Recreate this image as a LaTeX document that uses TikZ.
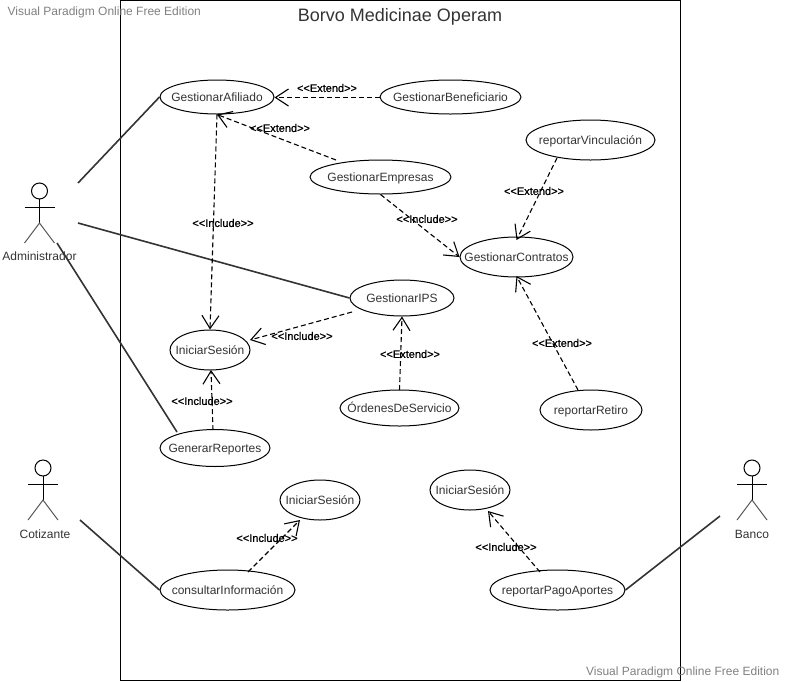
\documentclass[tikz,border=0pt]{standalone}
\usepackage{fontspec}
\setmainfont{Liberation Sans}
\newfontfamily\lblfont[FakeBold=0.9]{Liberation Sans}
\usetikzlibrary{shapes.geometric,arrows.meta}
\definecolor{inkc}{HTML}{333333}
\newcommand{\uctext}[1]{\smash{\raisebox{-4.4pt}{\makebox[0pt][c]{#1}}}}
\tikzset{
  uc/.style={ellipse,draw=black,line width=1pt,inner sep=0pt,text=inkc,font=\fontsize{12pt}{14pt}\selectfont},
  assoc/.style={draw=inkc,line width=1.6pt},
  dep/.style={draw=black,line width=1.1pt,dash pattern=on 5pt off 3pt,-{Straight Barb[length=13pt,width=17pt,line width=1.1pt]}},
  stereo/.style={font=\fontsize{11pt}{13pt}\lblfont,text=black,inner sep=0pt},
  actname/.style={font=\fontsize{12pt}{14pt}\selectfont,text=inkc,inner sep=0pt},
  wm/.style={font=\fontsize{12pt}{14pt}\selectfont,text=gray,inner sep=0pt},
  actor/.pic={
    \draw[black,line width=1pt] (0,-16) circle (8);
    \draw[black,line width=1pt] (0,-8) -- (0,16);
    \draw[black,line width=1pt] (-15,0) -- (15,0);
    \draw[black!65,line width=1pt] (-15,36) -- (0,16) -- (15,36);
  }
}
\begin{document}
\begin{tikzpicture}[x=1pt,y=-1pt]
\useasboundingbox (0,0) rectangle (785,681);
\draw[black,line width=1pt] (120.5,0.5) rectangle (680.5,680);
\node[font=\fontsize{18pt}{20pt}\selectfont,text=inkc,inner sep=0pt] (title) at (400,17) {Borvo Medicinae Operam};
\node[wm,anchor=west] (wm1) at (7.5,12) {Visual Paradigm Online Free Edition};
\node[wm,anchor=east] (wm2) at (779.5,672) {Visual Paradigm Online Free Edition};

\pic at (39.5,207) {actor};
\pic at (43,484) {actor};
\pic at (752,484) {actor};
\node[actname] (admin) at (39.5,256) {Administrador};
\node[actname] (coti) at (45,534) {Cotizante};
\node[actname] (banco) at (752,534) {Banco};
\coordinate (aa) at (78,183);
\coordinate (ab) at (78,223);
\coordinate (ac) at (57,243);
\coordinate (ad) at (80,520);
\coordinate (ae) at (720,516);

\node[uc,minimum width=114pt,minimum height=34pt] (afil) at (217,97) {\uctext{GestionarAfiliado}};
\node[uc,minimum width=141pt,minimum height=34pt] (bene) at (450.5,97) {\uctext{GestionarBeneficiario}};
\node[uc,minimum width=141pt,minimum height=34pt] (emp) at (380.5,177) {\uctext{GestionarEmpresas}};
\node[uc,minimum width=129pt,minimum height=40pt] (vinc) at (590.5,140) {\uctext{reportarVinculación}};
\node[uc,minimum width=113pt,minimum height=40pt] (contr) at (516.5,257) {\uctext{GestionarContratos}};
\node[uc,minimum width=104pt,minimum height=36pt] (ips) at (402,298) {\uctext{GestionarIPS}};
\node[uc,minimum width=80pt,minimum height=40pt] (ini1) at (210,350) {\uctext{IniciarSesión}};
\node[uc,minimum width=110pt,minimum height=37pt] (gen) at (215,448) {\uctext{GenerarReportes}};
\node[uc,minimum width=119pt,minimum height=36pt] (ord) at (399.5,408) {\uctext{ÓrdenesDeServicio}};
\node[uc,minimum width=102pt,minimum height=40pt] (ret) at (591,410) {\uctext{reportarRetiro}};
\node[uc,minimum width=80pt,minimum height=40pt] (ini2) at (320,500) {\uctext{IniciarSesión}};
\node[uc,minimum width=80pt,minimum height=40pt] (ini3) at (470,490) {\uctext{IniciarSesión}};
\node[uc,minimum width=135pt,minimum height=40pt] (cons) at (227.5,590) {\uctext{consultarInformación}};
\node[uc,minimum width=135pt,minimum height=40pt] (pago) at (557.5,590) {\uctext{reportarPagoAportes}};

\draw[assoc] (aa) -- (afil.west);
\draw[assoc] (ab) -- (ips.west);
\draw[assoc] (ac) -- ([shift={(-38,-16)}]gen.center);
\draw[assoc] (ad) -- (cons.west);
\draw[assoc] (ae) -- (pago.east);

\draw[dep] ([shift={(0,0.5)}]bene.west) -- ([shift={(0,0.5)}]afil.east);
\draw[dep] ([shift={(-44.5,-17)}]emp.center) -- (afil.south);
\draw[dep] (afil.south) -- (ini1.north);
\draw[dep] (emp.south) -- (contr.west);
\draw[dep] ([shift={(-33.5,18)}]vinc.center) -- ([shift={(0,-17)}]contr.center);
\draw[dep] ([shift={(-13,-20)}]ret.center) -- ([shift={(0,19)}]contr.center);
\draw[dep] ([shift={(-50,14)}]ips.center) -- ([shift={(40,-10)}]ini1.center);
\draw[dep] ([shift={(0,-18)}]ord.center) -- (ips.south);
\draw[dep] ([shift={(-2,-18)}]gen.center) -- ([shift={(1,20)}]ini1.center);
\draw[dep] ([shift={(20.5,-18)}]cons.center) -- ([shift={(-20,20)}]ini2.center);
\draw[dep] ([shift={(-17.5,-18)}]pago.center) -- ([shift={(18,21)}]ini3.center);

\node[stereo] (l1) at (327,88) {<{}<Extend>{}>};
\node[stereo] (l2) at (280,128) {<{}<Extend>{}>};
\node[stereo] (l3) at (534,191) {<{}<Extend>{}>};
\node[stereo] (l4) at (562,343) {<{}<Extend>{}>};
\node[stereo] (l5) at (410,354) {<{}<Extend>{}>};
\node[stereo] (l6) at (223,223) {<{}<Include>{}>};
\node[stereo] (l7) at (427,219) {<{}<Include>{}>};
\node[stereo] (l8) at (302,336) {<{}<Include>{}>};
\node[stereo] (l9) at (202,401) {<{}<Include>{}>};
\node[stereo] (l10) at (267,538) {<{}<Include>{}>};
\node[stereo] (l11) at (506,547) {<{}<Include>{}>};
\end{tikzpicture}
\end{document}
